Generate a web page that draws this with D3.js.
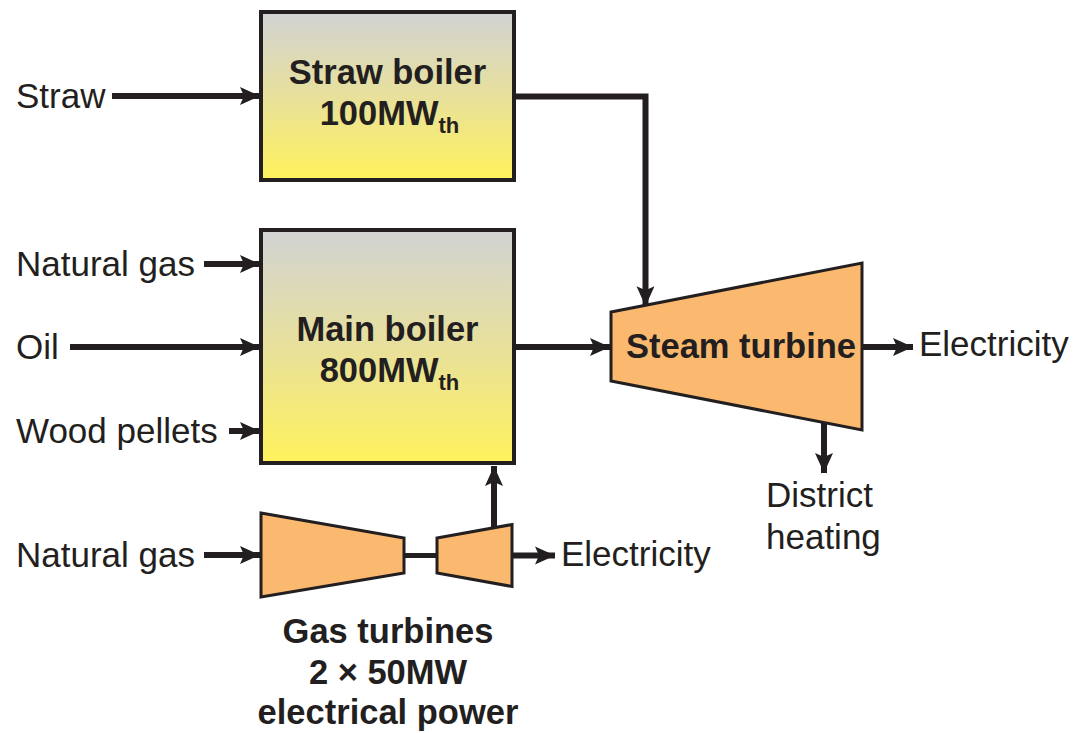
<!DOCTYPE html>
<html>
<head>
<meta charset="utf-8">
<script src="https://cdn.jsdelivr.net/npm/d3@7"></script>
<style>
  html, body { margin: 0; padding: 0; background: #fff; }
  svg text { font-family: "Liberation Sans", Arial, Helvetica, sans-serif; fill: #231f20; }
</style>
</head>
<body>
<svg id="chart" width="1075" height="733"></svg>
<script>
"use strict";

// ---- content of the diagram ----
const fuelLabels      = [ 'Straw', 'Natural gas', 'Oil', 'Wood pellets', 'Natural gas' ];
const fuelTargets     = [ 'straw', 'main', 'main', 'main', 'gas' ];
const boilerNames     = [ 'Straw boiler', 'Main boiler' ];
const boilerRatings   = [ '100MW', '800MW' ];           // thermal, subscript "th"
const turbineName     = 'Steam turbine';
const outputLabels    = [ 'Electricity', 'Electricity' ];
const heatLabel       = [ 'District', 'heating' ];
const gasCaption      = [ 'Gas turbines', '2 \u00d7 50MW', 'electrical power' ];

// ---- layout (pixels) ----
const ink    = '#231f20',
      orange = '#fbb96f',
      lineW  = 6;

const boxes = {
  straw: { x: 261, y: 12,  w: 253, h: 168 },
  main:  { x: 261, y: 230, w: 253, h: 233 },
};
// y of each fuel arrow and where its line starts
const fuelRows   = [ 96, 264, 347, 431, 555 ];
const fuelStarts = [ 112, 204, 70, 229, 204 ];

// turbines as trapezoids: x0, x1, centre y at each end, half-height at each end
const steam = { x0: 611, x1: 862, cy0: 346.5, cy1: 346.5, h0: 34.5, h1: 83.5 };
const gt1   = { x0: 261, x1: 404, cy0: 555, cy1: 555.5, h0: 42, h1: 17.5 };
const gt2   = { x0: 437, x1: 512, cy0: 555.5, cy1: 555.5, h0: 17.5, h1: 31 };

const fontReg  = '35px',
      fontBold = '34.5px';

const svg = d3.select('#chart');

// gradient for boilers
const defs = svg.append('defs');
const grad = defs.append('linearGradient')
    .attr('id', 'boilerFill')
    .attr('x1', 0).attr('y1', 0).attr('x2', 0).attr('y2', 1);
grad.append('stop').attr('offset', '0%').attr('stop-color', '#d1d3d4');
grad.append('stop').attr('offset', '50%').attr('stop-color', '#e8e09c');
grad.append('stop').attr('offset', '100%').attr('stop-color', '#fff25c');

// arrow head marker
defs.append('marker')
    .attr('id', 'head')
    .attr('markerUnits', 'userSpaceOnUse')
    .attr('viewBox', '0 -10 20 20')
    .attr('refX', 20).attr('refY', 0)
    .attr('markerWidth', 20).attr('markerHeight', 20)
    .attr('orient', 'auto')
  .append('path')
    .attr('d', 'M0,-9 L20,0 L0,9 L4,0 Z')
    .attr('fill', ink);

const line = d3.line();
function arrow(points) {
  svg.append('path')
     .attr('d', line(points))
     .attr('fill', 'none')
     .attr('stroke', ink)
     .attr('stroke-width', lineW)
     .attr('marker-end', 'url(#head)');
}

function trap(t) {
  return [ [t.x0, t.cy0 - t.h0], [t.x1, t.cy1 - t.h1], [t.x1, t.cy1 + t.h1], [t.x0, t.cy0 + t.h0] ];
}
function trapTopAt(t, x) {
  const p = (x - t.x0) / (t.x1 - t.x0);
  return (t.cy0 - t.h0) + p * ((t.cy1 - t.h1) - (t.cy0 - t.h0));
}
function trapBottomAt(t, x) {
  const p = (x - t.x0) / (t.x1 - t.x0);
  return (t.cy0 + t.h0) + p * ((t.cy1 + t.h1) - (t.cy0 + t.h0));
}

// ---- connections (drawn first, shapes on top) ----
// straw boiler -> steam turbine
const dropX = 645.5;
arrow([ [boxes.straw.x + boxes.straw.w, 96.5], [dropX, 96.5], [dropX, trapTopAt(steam, dropX) + 1] ]);
// main boiler -> steam turbine
arrow([ [boxes.main.x + boxes.main.w, 347], [steam.x0 - 1, 347] ]);
// steam turbine -> electricity
arrow([ [steam.x1, 347], [913, 347] ]);
// steam turbine -> district heating
const heatX = 824;
arrow([ [heatX, trapBottomAt(steam, heatX) - 2], [heatX, 473] ]);
// gas turbine -> main boiler (exhaust heat)
const upX = 494;
arrow([ [upX, trapTopAt(gt2, upX) + 2], [upX, boxes.main.y + boxes.main.h + 3] ]);
// gas turbine -> electricity
arrow([ [gt2.x1, 555.5], [555, 555.5] ]);
// shaft between gas turbines
svg.append('path')
   .attr('d', line([ [gt1.x1, 555.5], [gt2.x0, 555.5] ]))
   .attr('stroke', ink).attr('stroke-width', 5);

// fuel inputs
fuelLabels.forEach((lab, i) => {
  const tx = fuelTargets[i] === 'gas' ? gt1.x0 : boxes[fuelTargets[i]].x;
  arrow([ [fuelStarts[i], fuelRows[i]], [tx - 1, fuelRows[i]] ]);
  svg.append('text')
     .attr('x', 16).attr('y', fuelRows[i] - 1)
     .attr('dy', '0.36em')
     .style('font-size', fontReg)
     .text(lab);
});

// ---- boilers ----
['straw', 'main'].forEach((k, i) => {
  const b = boxes[k];
  svg.append('rect')
     .attr('x', b.x).attr('y', b.y).attr('width', b.w).attr('height', b.h)
     .attr('fill', 'url(#boilerFill)')
     .attr('stroke', ink).attr('stroke-width', 4);
  const cx = b.x + b.w / 2,
        ty = k === 'straw' ? 72 : 329;
  svg.append('text')
     .attr('x', cx).attr('y', ty).attr('dy', '0.36em')
     .attr('text-anchor', 'middle')
     .style('font-size', fontBold).style('font-weight', 'bold')
     .text(boilerNames[i]);
  const t = svg.append('text')
     .attr('x', cx + 2).attr('y', ty + 41).attr('dy', '0.36em')
     .attr('text-anchor', 'middle')
     .style('font-size', fontBold).style('font-weight', 'bold');
  t.append('tspan').text(boilerRatings[i]);
  t.append('tspan').attr('dy', 8).style('font-size', '22px').text('th');
});

// ---- turbines ----
[steam, gt1, gt2].forEach(t => {
  svg.append('path')
     .attr('d', line(trap(t)) + 'Z')
     .attr('fill', orange)
     .attr('stroke', ink).attr('stroke-width', 3)
     .attr('stroke-linejoin', 'miter');
});
svg.append('text')
   .attr('x', 741).attr('y', 346).attr('dy', '0.36em')
   .attr('text-anchor', 'middle')
   .style('font-size', fontBold).style('font-weight', 'bold')
   .text(turbineName);

// ---- outputs ----
svg.append('text').attr('x', 919).attr('y', 343).attr('dy', '0.36em')
   .style('font-size', fontReg).text(outputLabels[0]);
svg.append('text').attr('x', 561).attr('y', 553).attr('dy', '0.36em')
   .style('font-size', fontReg).text(outputLabels[1]);
heatLabel.forEach((s, i) => {
  svg.append('text').attr('x', 766).attr('y', 494 + i * 42).attr('dy', '0.36em')
     .style('font-size', fontReg).text(s);
});

// caption under the gas turbines
gasCaption.forEach((s, i) => {
  svg.append('text').attr('x', 388).attr('y', 631 + i * 40.5).attr('dy', '0.36em')
     .attr('text-anchor', 'middle')
     .style('font-size', fontBold).style('font-weight', 'bold')
     .text(s);
});
</script>
</body>
</html>
